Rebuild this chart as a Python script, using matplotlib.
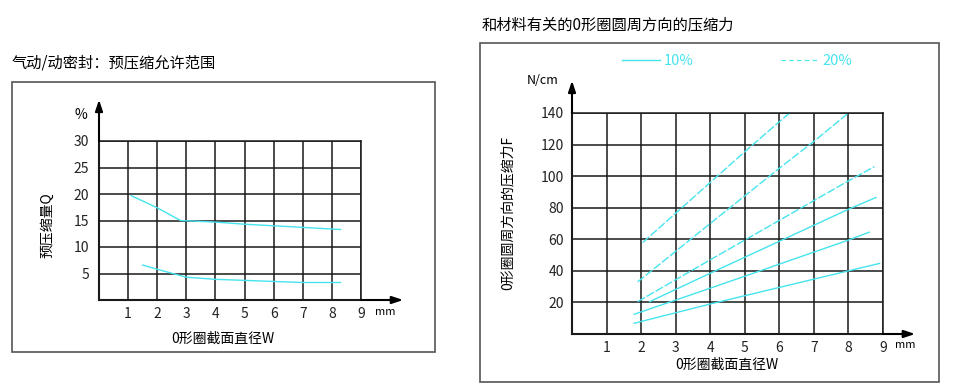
import matplotlib.pyplot as plt
from matplotlib.patches import Rectangle
from matplotlib.lines import Line2D

plt.rcParams['font.family'] = ['Noto Sans CJK SC', 'DejaVu Sans']

W, H = 976, 392
CYAN = '#45e4ee'
GRID = '#1a1a1a'

# left chart: pre-compression range (%), two boundary curves
q_x_ticks = [1, 2, 3, 4, 5, 6, 7, 8, 9]
q_y_ticks = [5, 10, 15, 20, 25, 30]
q_upper_w = [1.1, 2.0, 2.8, 4.0, 5.0, 6.0, 7.0, 8.3]
q_upper = [19.7, 17.4, 15.0, 14.7, 14.3, 14.0, 13.7, 13.3]
q_lower_w = [1.5, 2.0, 3.0, 4.0, 5.0, 6.0, 7.0, 8.3]
q_lower = [6.6, 5.8, 4.3, 3.9, 3.7, 3.5, 3.3, 3.3]

# right chart: compression force F (N/cm), 10% solid, 20% dashed
f_x_ticks = [1, 2, 3, 4, 5, 6, 7, 8, 9]
f_y_ticks = [20, 40, 60, 80, 100, 120, 140]
f10_a_w = [1.8, 4.0, 8.0, 8.9]
f10_a = [6.8, 19.0, 40.0, 44.7]
f10_b_w = [1.8, 4.0, 8.0, 8.6]
f10_b = [12.5, 29.0, 59.5, 64.5]
f10_c_w = [2.25, 4.0, 8.0, 8.8]
f10_c = [20.5, 38.5, 79.0, 86.5]
f20_a_w = [1.9, 4.0, 5.0, 8.0, 8.75]
f20_a = [20.5, 47.0, 59.5, 97.0, 106.0]
f20_b_w = [1.9, 4.0, 5.0, 6.0, 7.0, 8.0]
f20_b = [33.0, 70.0, 87.5, 105.0, 122.0, 140.0]
f20_c_w = [2.05, 3.0, 4.0, 5.0, 6.0, 6.3]
f20_c = [58.0, 76.5, 96.0, 115.5, 134.5, 140.0]


def fx(px):
    return px / W


def fy(py):
    return 1 - py / H


def grid_axes(fig, x0, y0, x1, y1, xmax, ymax, xticks, yticks, ypad):
    ax = fig.add_axes([fx(x0), fy(y1), fx(x1) - fx(x0), fy(y0) - fy(y1)])
    ax.set_xlim(0, xmax)
    ax.set_ylim(0, ymax)
    ax.set_xticks(xticks)
    ax.set_yticks(yticks)
    ax.grid(True, color=GRID, lw=1.1)
    ax.tick_params(length=0, labelsize=10, colors='#222222')
    ax.tick_params(axis='x', pad=5)
    ax.tick_params(axis='y', pad=ypad)
    for s in ax.spines.values():
        s.set_color(GRID)
        s.set_linewidth(1.1)
    ax.spines['left'].set_linewidth(1.5)
    ax.spines['bottom'].set_linewidth(1.5)
    return ax


def axis_arrows(ax, xend, yend):
    style = dict(arrowstyle='-|>,head_length=0.6,head_width=0.2',
                 color='black', lw=1.5, mutation_scale=11,
                 shrinkA=0, shrinkB=0)
    x0, x1 = ax.get_xlim()
    y0, y1 = ax.get_ylim()
    ax.annotate('', xy=(x0, yend), xytext=(x0, y1), arrowprops=style,
                annotation_clip=False)
    ax.annotate('', xy=(xend, y0), xytext=(x1, y0), arrowprops=style,
                annotation_clip=False)


fig = plt.figure(figsize=(W / 100, H / 100), dpi=100)

# frames
for (a, b, c, d) in [(12, 82, 435, 352), (480, 43, 939, 382)]:
    fig.add_artist(Rectangle((fx(a), fy(d)), fx(c) - fx(a), fy(b) - fy(d),
                             transform=fig.transFigure, fill=False,
                             edgecolor='#555555', lw=1.2))

# ---- left chart ----
ax1 = grid_axes(fig, 99, 141, 361, 300, 9, 30, q_x_ticks, q_y_ticks, 7)
axis_arrows(ax1, 10.45, 37.8)
ax1.plot(q_upper_w, q_upper, color=CYAN, lw=1.0)
ax1.plot(q_lower_w, q_lower, color=CYAN, lw=1.0)

fig.text(fx(12), fy(63), '气动/动密封：预压缩允许范围', fontsize=11,
         ha='left', va='center')
fig.text(fx(81), fy(115), '%', fontsize=10, ha='center', va='center')
fig.text(fx(385), fy(312), 'mm', fontsize=8, ha='center', va='center')
fig.text(fx(223), fy(339), '0形圈截面直径W', fontsize=10, ha='center', va='center')
fig.text(fx(47), fy(225), '预压缩量Q', fontsize=10, ha='center', va='center',
         rotation=90)

# ---- right chart ----
ax2 = grid_axes(fig, 572, 113, 883, 334, 9, 140, f_x_ticks, f_y_ticks, 6)
axis_arrows(ax2, 9.93, 160.5)
for w, f in [(f10_a_w, f10_a), (f10_b_w, f10_b), (f10_c_w, f10_c)]:
    ax2.plot(w, f, color=CYAN, lw=1.0)
for w, f in [(f20_a_w, f20_a), (f20_b_w, f20_b), (f20_c_w, f20_c)]:
    ax2.plot(w, f, color=CYAN, lw=1.0, dashes=(6, 1.5))

fig.text(fx(482), fy(25), '和材料有关的0形圈圆周方向的压缩力', fontsize=11,
         ha='left', va='center')
fig.text(fx(543), fy(81), 'N/cm', fontsize=9, ha='center', va='center')
fig.text(fx(905), fy(345), 'mm', fontsize=8, ha='center', va='center')
fig.text(fx(727), fy(365), '0形圈截面直径W', fontsize=10, ha='center', va='center')
fig.text(fx(508), fy(213), '0形圈圆周方向的压缩力F', fontsize=10, ha='center',
         va='center', rotation=90)

handles = [Line2D([], [], color=CYAN, lw=1.0),
           Line2D([], [], color=CYAN, lw=0.8, dashes=(4, 3))]
fig.legend(handles, ['10%', '20%'], loc='center left',
           bbox_to_anchor=(fx(622), fy(61)), ncol=2, frameon=False,
           fontsize=10.5, labelcolor=CYAN, handlelength=2.6, handletextpad=0.25,
           columnspacing=6.0, borderpad=0, borderaxespad=0)

fig.savefig('out.png', dpi=100)
